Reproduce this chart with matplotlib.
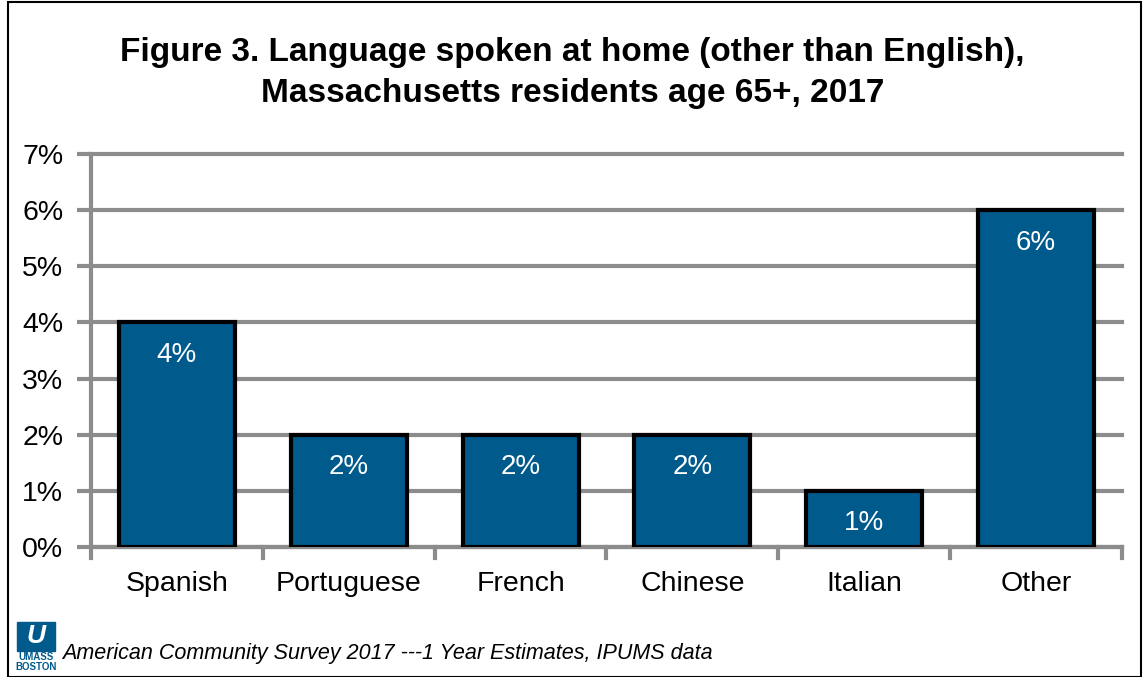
import numpy as np
import matplotlib.pyplot as plt
from matplotlib.patches import Rectangle

plt.rcParams['font.family'] = ['Liberation Sans', 'DejaVu Sans']

# Share of residents 65+ speaking each language at home (%)
languages = ['Spanish', 'Portuguese', 'French', 'Chinese', 'Italian', 'Other']
shares = [4, 2, 2, 2, 1, 6]
y_ticks = [0, 1, 2, 3, 4, 5, 6, 7]

title = ('Figure 3. Language spoken at home (other than English),\n'
         'Massachusetts residents age 65+, 2017')
source = 'American Community Survey 2017 ---1 Year Estimates, IPUMS data'

bar_blue = '#005a8c'
grid_gray = '#8c8c8c'

W, H = 1145, 677
fig = plt.figure(figsize=(W / 100, H / 100), dpi=100)
ax = fig.add_axes([91 / W, 1 - 547 / H, (1122 - 91) / W, (547 - 154) / H])

x = np.arange(len(languages))
bars = ax.bar(x, shares, width=0.675, color=bar_blue, edgecolor='black',
              linewidth=3, zorder=3)

for rect, v in zip(bars, shares):
    ax.text(rect.get_x() + rect.get_width() / 2, v - 0.58, f'{v}%',
            ha='center', va='center', color='white', fontsize=20, zorder=4)

ax.set_xlim(-0.5, len(languages) - 0.5)
ax.set_ylim(0, 7)
ax.set_yticks(y_ticks)
ax.set_yticklabels([f'{t}%' for t in y_ticks], fontsize=20.5)
ax.set_xticks(x)
ax.set_xticklabels(languages, fontsize=20.5)
ax.tick_params(axis='x', length=0, pad=17)
ax.tick_params(axis='y', length=10, width=3, color=grid_gray, pad=10)

# category separators below the baseline
for b in np.arange(-0.5, len(languages), 1.0):
    ax.plot([b, b], [0, -0.2], color=grid_gray, lw=3, clip_on=False, zorder=2)

ax.yaxis.grid(True, color=grid_gray, lw=3, zorder=1)
for gl in ax.get_ygridlines():
    gl.set_clip_on(False)
for s in ['top', 'right']:
    ax.spines[s].set_visible(False)
ax.spines['left'].set_color(grid_gray)
ax.spines['left'].set_linewidth(3)
ax.spines['bottom'].set_color(grid_gray)
ax.spines['bottom'].set_linewidth(3)

fig.text(0.5, 1 - 73 / H, title, ha='center', va='center', fontsize=24,
         fontweight='bold', linespacing=1.38)

# outer frame
fig.add_artist(Rectangle((8 / W, 0), 1133 / W, 0.997, transform=fig.transFigure,
                         fill=False, edgecolor='black', lw=1.5))

# UMass Boston mark
fig.add_artist(Rectangle((17 / W, 1 - 651 / H), 38 / W, 29 / H,
                         transform=fig.transFigure, color=bar_blue))
fig.text(36 / W, 1 - 636 / H, 'U', ha='center', va='center', color='white',
         fontsize=19, style='italic', fontweight='bold')
fig.text(36 / W, 1 - 662 / H, 'UMASS\nBOSTON', ha='center', va='center',
         color=bar_blue, fontsize=7, fontweight='bold', linespacing=1.1)

fig.text(62 / W, 1 - 653 / H, source, ha='left', va='center', fontsize=15.5,
         style='italic')

fig.savefig('out.png', dpi=100)
